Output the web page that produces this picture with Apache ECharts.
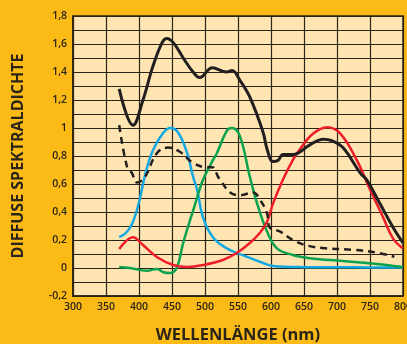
<!DOCTYPE html>
<html><head><meta charset="utf-8">
<script src="https://cdn.jsdelivr.net/npm/echarts@6/dist/echarts.min.js"></script>
<style>html,body{margin:0;padding:0;background:#FBBA16;}#c{width:407px;height:344px;}</style>
</head><body><div id="c"></div>
<script>
// wavelengths (nm) and values
const blackNm  = [370,391,406,421,435,442,452,467,482,492,511,533,541,553,568,588,594,603,611,618,633,659,679,692,709,735,745,765,785,800];
const blackVal = [1.28,1.02,1.2,1.44,1.61,1.64,1.61,1.5,1.4,1.36,1.43,1.4,1.41,1.34,1.22,0.97,0.85,0.76,0.77,0.81,0.81,0.88,0.92,0.91,0.86,0.68,0.63,0.46,0.29,0.18];
const dashNm   = [370,382,389,397,409,427,444,462,482,503,511,520,523,538,553,573,583,594,598,614,633,655,685,724,760,787];
const dashVal  = [1.02,0.72,0.68,0.61,0.65,0.82,0.86,0.83,0.75,0.72,0.72,0.65,0.63,0.54,0.52,0.54,0.49,0.39,0.29,0.26,0.2,0.16,0.14,0.13,0.11,0.08];
const blueNm   = [370,380,390,400,410,421,436,447,459,473,482,488,497,512,533,558,588,603,650,700,750,800];
const blueVal  = [0.22,0.25,0.32,0.47,0.68,0.84,0.96,1.0,0.97,0.82,0.65,0.56,0.36,0.22,0.14,0.09,0.036,0.014,0.006,0.005,0.004,0.003];
const greenNm  = [370,386,412,427,437,447,457,467,482,497,512,518,533,541,553,568,579,594,609,633,659,709,760,800];
const greenVal = [0.007,0,-0.02,-0.007,-0.03,-0.036,0,0.18,0.41,0.63,0.77,0.82,0.98,1.0,0.94,0.65,0.46,0.26,0.14,0.093,0.07,0.05,0.029,0.007];
const redNm    = [370,391,406,427,452,473,497,527,548,568,583,594,603,618,633,644,664,685,705,730,750,770,785,800];
const redVal   = [0.136,0.22,0.164,0.079,0.021,0.007,0.021,0.057,0.107,0.179,0.25,0.33,0.46,0.63,0.77,0.85,0.96,1.005,0.96,0.77,0.56,0.36,0.21,0.14];
const xTicks = [300,350,400,450,500,550,600,650,700,750,800];
const yLabels = ['-0,2','0','0,2','0,4','0,6','0,8','1','1,2','1,4','1,6','1,8'];

const zip = (a,b) => a.map((v,i)=>[v,b[i]]);
const chart = echarts.init(document.getElementById('c'));
const lineCol = '#2b2418';
const font = 'Open Sans';
chart.setOption({
  animation:false,
  backgroundColor:'#FBBA16',
  grid:{left:73,top:16,right:4,bottom:48,outerBoundsMode:'none',containLabel:false,show:true,backgroundColor:'#FFE5B2',borderColor:lineCol,borderWidth:1.5},
  xAxis:{type:'value',min:xTicks[0],max:xTicks[xTicks.length-1],interval:50,
    axisLine:{show:true,onZero:false,lineStyle:{color:lineCol,width:1.5}},axisTick:{show:false},
    splitLine:{show:true,lineStyle:{color:lineCol,width:1.2}},
    axisLabel:{color:'#2b2418',fontFamily:font,fontWeight:600,fontSize:10.5,margin:6},
    name:'WELLENLÄNGE (nm)',nameLocation:'middle',nameGap:31,
    nameTextStyle:{color:'#2b2418',fontFamily:font,fontWeight:700,fontSize:16.5}},
  yAxis:{type:'value',min:-0.2,max:1.8,interval:0.1,
    axisLine:{show:true,onZero:false,lineStyle:{color:lineCol,width:1.5}},axisTick:{show:false},
    splitLine:{show:true,lineStyle:{color:lineCol,width:1.2}},
    axisLabel:{color:'#2b2418',fontFamily:font,fontWeight:600,fontSize:10.5,margin:6,
      formatter:function(v){const k=Math.round(v*10)+2; return k%2===0?yLabels[k/2]:'';}},
    name:'DIFFUSE SPEKTRALDICHTE',nameLocation:'middle',nameGap:47,
    nameTextStyle:{color:'#2b2418',fontFamily:font,fontWeight:700,fontSize:16}},
  series:[
    {type:'line',data:zip(blueNm,blueVal),smooth:0.4,showSymbol:false,lineStyle:{color:'#12A8E4',width:2.5}},
    {type:'line',data:zip(greenNm,greenVal),smooth:0.4,showSymbol:false,lineStyle:{color:'#0AA24E',width:2.5}},
    {type:'line',data:zip(redNm,redVal),smooth:0.4,showSymbol:false,lineStyle:{color:'#EE1D2A',width:2.5}},
    {type:'line',data:zip(dashNm,dashVal),smooth:0.4,showSymbol:false,lineStyle:{color:'#231F20',width:2.5,type:[7,5]}},
    {type:'line',data:zip(blackNm,blackVal),smooth:0.4,showSymbol:false,lineStyle:{color:'#231F20',width:3}}
  ]
});
</script></body></html>
